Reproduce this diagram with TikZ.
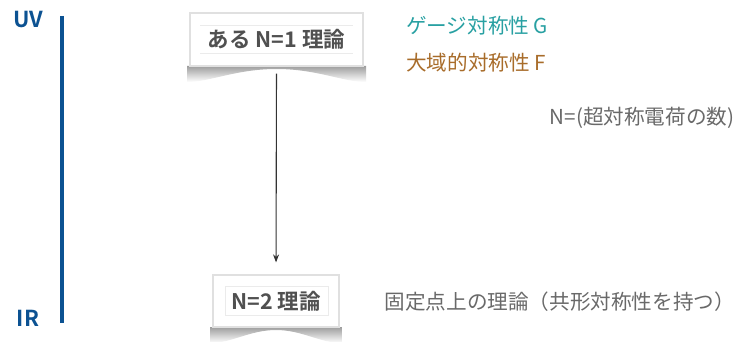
\documentclass[tikz,border=0pt]{standalone}
\usepackage{fontspec}
\setmainfont{Noto Sans CJK JP}[BoldFont={Noto Sans CJK JP Bold}]
\usetikzlibrary{arrows.meta,calc}
\definecolor{uvblue}{RGB}{12,82,146}
\definecolor{teal1}{RGB}{40,160,162}
\definecolor{brown1}{RGB}{168,108,42}
\definecolor{txtgray}{RGB}{105,105,105}
\definecolor{boxtxt}{RGB}{80,80,80}
\tikzset{
  scalelbl/.style={font=\fontsize{22}{22}\selectfont\bfseries, text=uvblue, inner sep=0pt},
  theorybox/.style={fill=white, draw=black!12, line width=1.2pt, inner sep=0pt},
  boxtext/.style={font=\fontsize{21.5}{21.5}\selectfont\bfseries, text=boxtxt, inner sep=0pt},
  note/.style={font=\fontsize{20.6}{20.6}\selectfont, inner sep=0pt},
  flowarrow/.style={-{Stealth[length=8pt,width=6pt]}, draw=black!80, line width=1.1pt},
  curlshadow/.style={top color=black!38, bottom color=white, draw=none}
}
\begin{document}
\begin{tikzpicture}[x=1pt,y=1pt]
\useasboundingbox (0,0) rectangle (735,-342);
% scale axis
\coordinate (top) at (62,-16);
\coordinate (bot) at (62,-323);
\draw[uvblue, line width=4pt] (top) -- (bot);
\node[scalelbl] (uv) at (28,-20) {UV};
\node[scalelbl] (ir) at (28,-318) {IR};
% shadows
\shade[curlshadow] (187,-66) -- (187,-82) .. controls (210,-82) and (236,-69) .. (276.5,-69) .. controls (317,-69) and (343,-82) .. (366,-82) -- (366,-66) -- cycle;
\shade[curlshadow] (210,-327) -- (210,-343) .. controls (232,-343) and (250,-330) .. (276,-330) .. controls (302,-330) and (320,-343) .. (342,-343) -- (342,-327) -- cycle;
% boxes
\node[theorybox, minimum width=173pt, minimum height=53pt] (b1) at (276.5,-39.5) {};
\draw[black!8, line width=0.8pt] (200,-25) -- (353,-25);
\draw[black!8, line width=0.8pt] (200,-53) -- (353,-53);
\node[boxtext] (t1) at (b1.center) {ある N=1 理論};
\node[theorybox, minimum width=126pt, minimum height=52pt] (b2) at (276,-301) {};
\draw[black!8, line width=0.8pt] (225,-286) rectangle (328,-315);
\node[boxtext] (t2) at (b2.center) {N=2 理論};
% arrow
\draw[flowarrow, shorten <=7pt, shorten >=12pt] (b1.south) -- (b2.north);
% notes
\node[note, text=teal1, anchor=west] (g) at (406,-26) {ゲージ対称性 G};
\node[note, text=brown1, anchor=west] (f) at (406,-63) {大域的対称性 F};
\node[note, text=txtgray, anchor=east] (n) at (734.5,-118) {N=(超対称電荷の数)};
\node[note, text=txtgray, anchor=west] (fp) at (384.5,-302) {固定点上の理論（共形対称性を持つ）};
\end{tikzpicture}
\end{document}
